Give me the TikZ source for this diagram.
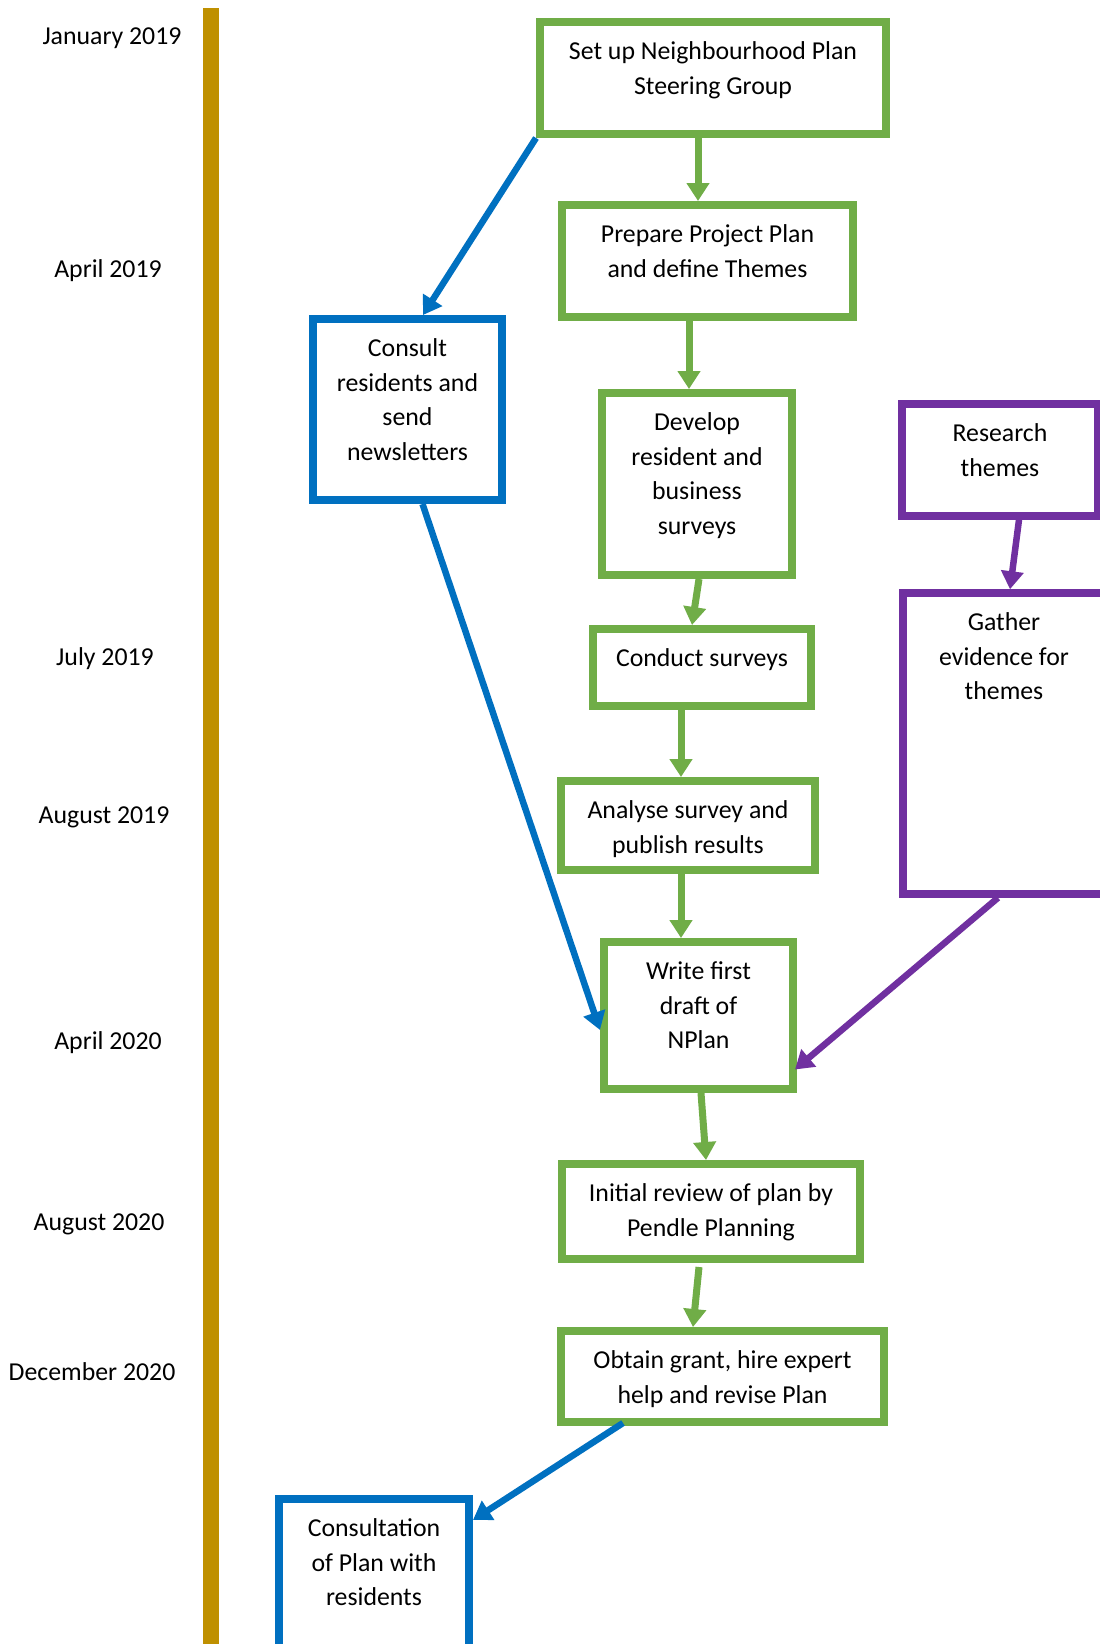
\documentclass[tikz,border=0pt]{standalone}
\usepackage{fontspec}
\setmainfont{Carlito}
\usetikzlibrary{arrows.meta}
\definecolor{tgreen}{HTML}{70AD47}
\definecolor{tblue}{HTML}{0070C0}
\definecolor{tpurple}{HTML}{7030A0}
\definecolor{tgold}{HTML}{BF9000}
\newcommand\bxfont{\fontsize{25.8pt}{34.7pt}\selectfont}
\newcommand\bxtext[3]{\parbox[c][#2pt][t]{#1pt}{\centering\rule{0pt}{37.5pt}#3}}
\tikzset{
  box/.style={draw, line width=8pt, inner sep=0pt, fill=white, font=\bxfont},
  gbox/.style={box, draw=tgreen},
  bbox/.style={box, draw=tblue},
  pbox/.style={box, draw=tpurple, line width=7.5pt},
  conn/.style={line width=7pt, -{Triangle[width=22pt,length=18pt]}},
  gconn/.style={conn, draw=tgreen, fill=tgreen},
  bconn/.style={conn, line width=6.5pt, draw=tblue, fill=tblue},
  pconn/.style={conn, line width=6.5pt, draw=tpurple, fill=tpurple},
  datelabel/.style={font=\bxfont, anchor=base, inner sep=0pt},
}
\begin{document}
\begin{tikzpicture}[x=1pt, y=-1pt]
\useasboundingbox (0,0) rectangle (1100,1644);
\fill[white] (0,0) rectangle (1100,1644);

% timeline bar
\node[fill=tgold, inner sep=0pt, minimum width=16pt, minimum height=1650pt, anchor=north] (timeline) at (211,8) {};

% date labels
\node[datelabel] (jan19) at (112,44) {January 2019};
\node[datelabel] (apr19) at (108,277) {April 2019};
\node[datelabel] (jul19) at (105,665) {July 2019};
\node[datelabel] (aug19) at (104,823) {August 2019};
\node[datelabel] (apr20) at (108,1049) {April 2020};
\node[datelabel] (aug20) at (99,1230) {August 2020};
\node[datelabel] (dec20) at (92,1380) {December 2020};

% boxes
\node[gbox] (setup) at (713,78) {\bxtext{346}{112}{Set up Neighbourhood Plan\\Steering Group}};
\node[gbox] (prepare) at (707.5,261) {\bxtext{291}{112}{Prepare Project Plan\\and define Themes}};
\node[bbox] (consult) at (407.5,409.5) {\bxtext{189}{181}{Consult\\residents and\\send\\newsletters}};
\node[gbox] (develop) at (697,484) {\bxtext{190}{182}{Develop\\resident and\\business\\surveys}};
\node[pbox] (research) at (1000,460) {\bxtext{196}{112}{Research\\themes}};
\node[pbox] (gather) at (1004,743.5) {\bxtext{202}{301}{Gather\\evidence for\\themes}};
\node[gbox] (conduct) at (702,667.5) {\bxtext{218}{77}{Conduct surveys}};
\node[gbox] (analyse) at (688,825.5) {\bxtext{254}{89}{Analyse survey and\\publish results}};
\node[gbox] (write) at (698.5,1015.5) {\bxtext{189}{147}{Write first\\draft of\\NPlan}};
\node[gbox] (initial) at (711,1211.5) {\bxtext{298}{95}{Initial review of plan by\\Pendle Planning}};
\node[gbox] (obtain) at (722.5,1376.5) {\bxtext{323}{91}{Obtain grant, hire expert\\help and revise Plan}};
\node[bbox] (consultation) at (374,1579.5) {\bxtext{190}{161}{Consultation\\of Plan with\\residents}};

% connectors
\draw[gconn] ([xshift=-15pt]setup.south) -- ([xshift=-9.5pt]prepare.north);
\draw[bconn] (setup.south west) -- ([xshift=15.5pt]consult.north);
\draw[gconn] ([xshift=-18.5pt]prepare.south) -- ([xshift=-8pt]develop.north);
\draw[gconn] ([xshift=2pt]develop.south) -- ([xshift=-10pt]conduct.north);
\draw[gconn] ([xshift=-21pt]conduct.south) -- ([xshift=-7pt]analyse.north);
\draw[gconn] ([xshift=-7pt]analyse.south) -- ([xshift=-17.5pt]write.north);
\draw[bconn] ([xshift=15pt]consult.south) -- ([yshift=-14.5pt]write.west);
\draw[pconn] ([xshift=19pt]research.south) -- ([xshift=6pt]gather.north);
\draw[pconn] ([xshift=-6pt]gather.south) -- ([xshift=-2pt,yshift=-54pt]write.east);
\draw[gconn] ([xshift=2.5pt]write.south) -- ([xshift=-5pt]initial.north);
\draw[gconn] ([xshift=-12pt,yshift=-4pt]initial.south) -- ([xshift=-29.5pt]obtain.north);
\draw[bconn] ([xshift=-99.5pt,yshift=3pt]obtain.south) -- ([yshift=59.5pt]consultation.east);
\end{tikzpicture}
\end{document}
